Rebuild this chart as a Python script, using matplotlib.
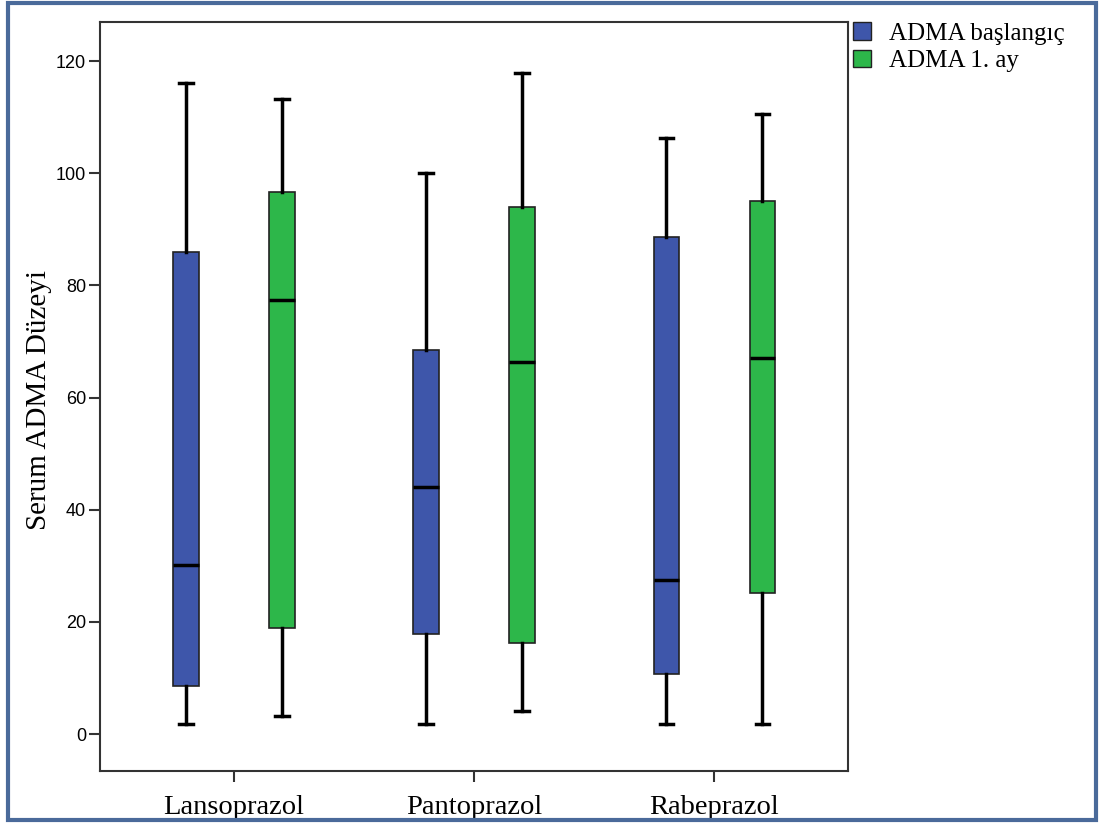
import matplotlib.pyplot as plt
from matplotlib.patches import Patch, Rectangle

# Data
groups = ["Lansoprazol", "Pantoprazol", "Rabeprazol"]
series = ["ADMA başlangıç", "ADMA 1. ay"]

# per group: whisker low, Q1, median, Q3, whisker high
baslangic_low = [1.8, 1.8, 1.8]
baslangic_q1 = [8.6, 17.8, 10.7]
baslangic_med = [30.1, 44.0, 27.5]
baslangic_q3 = [86.0, 68.5, 88.6]
baslangic_high = [116.1, 100.0, 106.3]

ay1_low = [3.3, 4.1, 1.8]
ay1_q1 = [18.9, 16.2, 25.1]
ay1_med = [77.4, 66.3, 67.0]
ay1_q3 = [96.6, 94.0, 95.0]
ay1_high = [113.2, 117.9, 110.6]

colors = ["#3E56AA", "#2DB74A"]

serif = "Liberation Serif"
sans = "Liberation Sans"

fig = plt.figure(figsize=(11.05, 8.27), dpi=100)
ax = fig.add_axes([0.0905, 0.0677, 0.677, 0.9057])


def make_stats(low, q1, med, q3, high):
    return [dict(whislo=a, q1=b, med=c, q3=d, whishi=e, fliers=[])
            for a, b, c, d, e in zip(low, q1, med, q3, high)]


all_stats = [
    make_stats(baslangic_low, baslangic_q1, baslangic_med, baslangic_q3, baslangic_high),
    make_stats(ay1_low, ay1_q1, ay1_med, ay1_q3, ay1_high),
]
offsets = [-0.2, 0.2]

for stats, off, col in zip(all_stats, offsets, colors):
    pos = [i + 1 + off for i in range(len(groups))]
    ax.bxp(stats, positions=pos, widths=0.105, patch_artist=True,
           showfliers=False, manage_ticks=False,
           boxprops=dict(facecolor=col, edgecolor="#222222", linewidth=1.2),
           medianprops=dict(color="black", linewidth=2.5),
           whiskerprops=dict(color="black", linewidth=2.5),
           capprops=dict(color="black", linewidth=2.5),
           capwidths=0.055)

ax.set_xlim(0.442, 3.558)
ax.set_ylim(-6.6, 127)
ax.set_yticks([0, 20, 40, 60, 80, 100, 120])
ax.set_xticks([1, 2, 3])
ax.set_xticklabels(groups, fontsize=20.5, family=serif)
for lab in ax.get_yticklabels():
    lab.set_fontfamily(sans)
    lab.set_fontsize(13)
ax.tick_params(axis="both", direction="out", length=8, width=1.5, color="#333333")
ax.tick_params(axis="x", pad=9)
ax.tick_params(axis="y", pad=2)
ax.set_ylabel("Serum ADMA Düzeyi", fontsize=21, family=serif)
ax.yaxis.set_label_coords(-0.064, 0.495)
for sp in ax.spines.values():
    sp.set_linewidth(1.5)
    sp.set_color("#333333")

handles = [Patch(facecolor=c, edgecolor="#222222", label=s) for c, s in zip(colors, series)]
fig.legend(handles=handles, loc="upper left", bbox_to_anchor=(0.763, 0.985),
           frameon=False, prop={"family": serif, "size": 18},
           handlelength=0.7, handleheight=0.7, handletextpad=0.75,
           labelspacing=0.2, borderaxespad=0)

# outer blue frame
fig.patches.append(Rectangle((0.007, 0.008), 0.985, 0.988, transform=fig.transFigure,
                             fill=False, edgecolor="#4A6A9A", linewidth=3))

fig.savefig("out.png", dpi=100)
